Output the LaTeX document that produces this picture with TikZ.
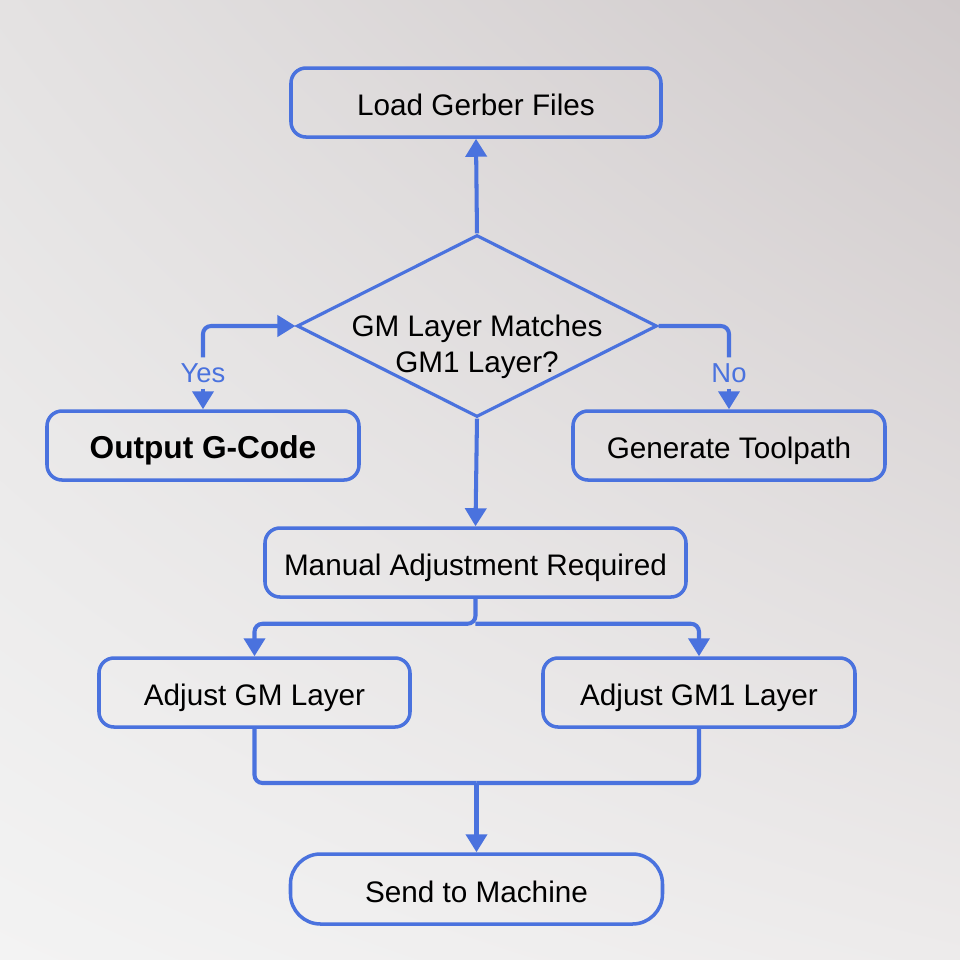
\documentclass[tikz,border=0pt]{standalone}
\usepackage{fontspec}
\setmainfont{Liberation Sans}
\usepackage{tikz}
\usetikzlibrary{arrows.meta,shapes.geometric,shadings}
\usepackage{xcolor}
\definecolor{flowblue}{HTML}{4A72DE}
\definecolor{bgtr}{HTML}{D0CACB}
\definecolor{bgtl}{HTML}{E4E2E2}
\definecolor{bgbl}{HTML}{F3F3F3}
\definecolor{bgbr}{HTML}{EDEBEB}
\tikzset{
  box/.style={draw=flowblue, line width=1pt, rounded corners=0.15cm, minimum height=0.69cm,
    inner sep=0pt, text height=0.26cm, text depth=0pt,
    font=\fontsize{8.45}{10}\selectfont, text=black},
  pill/.style={box, rounded corners=0.3cm},
  decision/.style={draw=flowblue, line width=0.9pt, diamond, aspect=2, inner sep=0pt,
    minimum width=3.6cm, minimum height=1.82cm},
  flow/.style={draw=flowblue, line width=1.15pt, rounded corners=0.08cm},
  arrow/.style={flow, -{Triangle[width=0.21cm,length=0.18cm]}},
  answer/.style={font=\fontsize{7.8}{9}\selectfont, text=flowblue, inner sep=1.5pt},
}
\begin{document}
\begin{tikzpicture}
  % Hintergrund
  \useasboundingbox (0,0) rectangle (9.6,-9.6);
  \shade[upper left=bgtl, upper right=bgtr, lower left=bgbl, lower right=bgbr] (0,0) rectangle (9.6,-9.6);
  % Knoten
  \node[box, minimum width=3.70cm] (load) at (4.76,-1.025) {Load Gerber Files};
  \node[decision] (dia) at (4.77,-3.26) {};
  \node[font=\fontsize{8.45}{10.2}\selectfont, align=center] (diatext) at (4.77,-3.465)
    {GM Layer Matches\\GM1 Layer?};
  \node[box, minimum width=3.12cm, font=\fontsize{9}{11}\selectfont\bfseries] (out) at (2.03,-4.455) {Output G-Code};
  \node[box, minimum width=3.12cm] (gen) at (7.29,-4.455) {Generate Toolpath};
  \node[box, minimum width=4.21cm] (man) at (4.755,-5.625) {Manual Adjustment Required};
  \node[box, minimum width=3.11cm] (adjgm) at (2.545,-6.925) {Adjust GM Layer};
  \node[box, minimum width=3.12cm] (adjgmone) at (6.99,-6.925) {Adjust GM1 Layer};
  \node[pill, minimum width=3.72cm, minimum height=0.70cm] (send) at (4.765,-8.89) {Send to Machine};
  \node[answer] (yes) at (2.03,-3.73) {Yes};
  \node[answer] (no) at (7.29,-3.73) {No};
  % Verbindungen
  \draw[arrow] (dia.north) -- (load.south);
  \draw[arrow] (yes.north) |- (dia.west);
  \draw[arrow] (yes.south) -- (out.north);
  \draw[flow] (dia.east) -| (no.north);
  \draw[arrow] (no.south) -- (gen.north);
  \draw[arrow] (dia.south) -- (man.north);
  \path (man.south) ++(0,-0.25) coordinate (split);
  \draw[arrow] (man.south) -- (split) -| (adjgm.north);
  \draw[arrow] (split) -| (adjgmone.north);
  \coordinate (merge) at (4.765,-7.83);
  \draw[flow] (adjgm.south) |- (merge);
  \draw[flow] (adjgmone.south) |- (merge);
  \draw[arrow] (merge) -- (send.north);
\end{tikzpicture}
\end{document}
